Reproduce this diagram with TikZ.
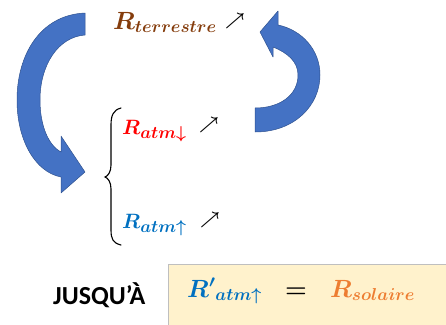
\documentclass[tikz,border=0pt]{standalone}
\usepackage{amsmath}
\usepackage{fontspec}
\newfontfamily\calib{Carlito}
\DeclareMathSizes{24}{24}{18}{13}
\DeclareMathSizes{21}{21}{16}{11}
\DeclareMathSizes{18}{18}{13}{10}
\definecolor{arrowblue}{HTML}{4472C4}
\definecolor{arrowedge}{HTML}{2F528F}
\definecolor{brownR}{HTML}{843C0C}
\definecolor{redR}{HTML}{FF0000}
\definecolor{blueR}{HTML}{0070C0}
\definecolor{orangeR}{HTML}{ED7D31}
\definecolor{boxfill}{HTML}{FFF2CC}
\begin{document}
\begin{tikzpicture}[x=1pt,y=-1pt,
  bigarrow/.style={fill=arrowblue,draw=arrowedge,line width=0.5pt,line join=round},
  mathlbl/.style={anchor=base west,inner sep=0pt,font=\fontsize{24}{28}\selectfont},
  atmlbl/.style={anchor=base west,inner sep=0pt,font=\fontsize{21}{25}\selectfont},
  upmark/.style={inner sep=0pt,font=\fontsize{18}{22}\selectfont},
  bracestyle/.style={draw=black,line width=1.1pt,line cap=round}]
\useasboundingbox (0,0) rectangle (446,324);
% bottom box
\path[fill=boxfill,draw=black!25,line width=0.6pt] (168,264) rectangle (447,325);
% left curved arrow
\path[bigarrow] (85,13) .. controls (40,15) and (17,55) .. (17,100)
  .. controls (17,140) and (35,172) .. (61,177)
  -- (61,193) -- (85,172) -- (61,136) -- (61,152)
  .. controls (48,145) and (40,125) .. (40,100)
  .. controls (40,65) and (58,37) .. (85,35) -- cycle;
% right curved arrow
\path[bigarrow] (255,132) .. controls (295,132) and (320,105) .. (320,75)
  .. controls (320,50) and (302,30) .. (278,25)
  -- (278,11) -- (260,32) -- (273,57) -- (273,47)
  .. controls (288,53) and (298,62) .. (298,75)
  .. controls (298,95) and (280,108) .. (255,108) -- cycle;
% labels
\node[mathlbl,text=brownR] (rter) at (113,29) {$\boldsymbol{R_{terrestre}}$};
\node[upmark] (up1) at (235,21) {$\boldsymbol{\nearrow}$};
\node[atmlbl,text=redR] (rdown) at (122,134) {$\boldsymbol{R_{atm\downarrow}}$};
\node[upmark] (up2) at (209,125) {$\boldsymbol{\nearrow}$};
\node[atmlbl,text=blueR] (rup) at (122,228) {$\boldsymbol{R_{atm\uparrow}}$};
\node[upmark] (up3) at (210,220) {$\boldsymbol{\nearrow}$};
% brace
\draw[bracestyle] (121,108) .. controls (113,110) and (111,116) .. (111,125) -- (111,165)
  .. controls (111,172) and (108,176) .. (105,177)
  .. controls (108,178) and (111,182) .. (111,189) -- (111,230)
  .. controls (111,239) and (113,243) .. (121,245);
% bottom text
\node[anchor=base west,inner sep=0pt,font=\calib\bfseries\fontsize{26}{30}\selectfont] (jusq) at (53,304) {JUSQU’À};
\node[mathlbl,text=blueR] (ratm) at (187,297) {$\boldsymbol{{R'}_{atm\uparrow}}$};
\node[anchor=base,inner sep=0pt,font=\fontsize{24}{28}\selectfont] (eq) at (296,297) {$\boldsymbol{=}$};
\node[mathlbl,text=orangeR] (rsol) at (330,297) {$\boldsymbol{R_{solaire}}$};
\end{tikzpicture}
\end{document}
